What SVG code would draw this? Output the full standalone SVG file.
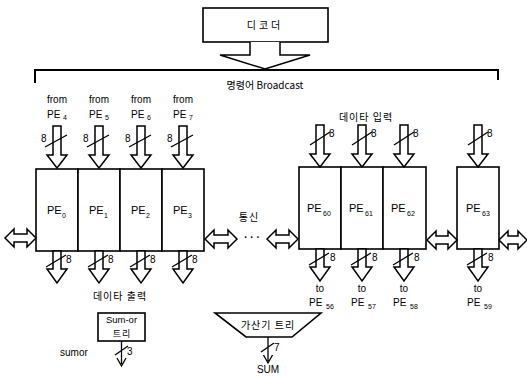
<svg xmlns="http://www.w3.org/2000/svg" width="527" height="380" viewBox="0 0 527 380">
<style>
.box{fill:#fff;stroke:#000;stroke-width:1.6}
.arr{fill:#fff;stroke:#000;stroke-width:1.5;stroke-linejoin:miter}
.ln{fill:none;stroke:#000;stroke-width:1.3}
.br{fill:none;stroke:#000;stroke-width:2}
text{font-family:"Liberation Sans","Noto Sans CJK KR",sans-serif;fill:#000}
.t{font-size:10px}
.k{font-size:10px;font-family:"Noto Sans CJK KR","Liberation Sans",sans-serif;letter-spacing:1px}
.pe{font-size:11px}
.sub{font-size:7px;fill:#000}
.n{font-size:10px}
</style>
<rect width="527" height="380" fill="#fff"/>
<g id="decoder">
<rect class="box" x="203" y="8" width="125" height="34"/>
<text class="k" x="265" y="29" text-anchor="middle" style="letter-spacing:3px">디코더</text>
</g>
<g id="broadcast">
<path class="br" d="M35,83 V70 H498 V80"/>
<text class="k" x="265" y="89" text-anchor="middle" style="letter-spacing:0">명령어 Broadcast</text>
</g>
<g id="pe0"><rect class="box" x="36" y="169" width="42" height="82"/><text class="pe" x="47" y="214">PE</text><text class="sub" x="62" y="218">0</text></g>
<g id="pe1"><rect class="box" x="78" y="169" width="42" height="82"/><text class="pe" x="89" y="214">PE</text><text class="sub" x="104" y="218">1</text></g>
<g id="pe2"><rect class="box" x="120" y="169" width="42" height="82"/><text class="pe" x="131" y="214">PE</text><text class="sub" x="146" y="218">2</text></g>
<g id="pe3"><rect class="box" x="162" y="169" width="42" height="82"/><text class="pe" x="173" y="214">PE</text><text class="sub" x="188" y="218">3</text></g>
<g id="pe60"><rect class="box" x="299" y="167" width="42" height="82"/><text class="pe" x="307" y="212">PE</text><text class="sub" x="323" y="216">60</text></g>
<g id="pe61"><rect class="box" x="341" y="167" width="42" height="82"/><text class="pe" x="349" y="212">PE</text><text class="sub" x="365" y="216">61</text></g>
<g id="pe62"><rect class="box" x="383" y="167" width="43" height="82"/><text class="pe" x="391" y="212">PE</text><text class="sub" x="407" y="216">62</text></g>
<g id="pe63"><rect class="box" x="457" y="167" width="42" height="82"/><text class="pe" x="466" y="212">PE</text><text class="sub" x="482" y="216">63</text></g>
<g id="sumor-tree">
<rect class="box" x="98" y="313" width="47" height="28"/>
<text class="t" x="121.5" y="323" text-anchor="middle" style="font-size:9.5px">Sum-or</text>
<text class="k" x="122" y="337" text-anchor="middle" style="font-size:9px">트리</text>
</g>
<g id="adder-tree">
<path class="box" d="M215,313 H321 L292,337 H246 Z"/>
<text class="k" x="268" y="329" text-anchor="middle">가산기 트리</text>
</g>
<g id="labels">
<text class="t" x="57" y="103" text-anchor="middle">from</text>
<text class="t" x="99" y="103" text-anchor="middle">from</text>
<text class="t" x="141" y="103" text-anchor="middle">from</text>
<text class="t" x="183" y="103" text-anchor="middle">from</text>
<text class="t" x="47" y="118">PE</text><text class="sub" x="63" y="120">4</text>
<text class="t" x="89" y="118">PE</text><text class="sub" x="105" y="120">5</text>
<text class="t" x="131" y="118">PE</text><text class="sub" x="147" y="120">6</text>
<text class="t" x="173" y="118">PE</text><text class="sub" x="189" y="120">7</text>
<text class="k" x="366" y="121" text-anchor="middle">데이타 입력</text>
<text class="k" x="249" y="221" text-anchor="middle">통신</text>
<text class="t" x="252" y="241" text-anchor="middle" font-weight="bold">· · ·</text>
<text class="k" x="120" y="300" text-anchor="middle">데이타 출력</text>
<text class="t" x="320" y="292" text-anchor="middle">to</text>
<text class="t" x="362" y="292" text-anchor="middle">to</text>
<text class="t" x="404" y="292" text-anchor="middle">to</text>
<text class="t" x="478" y="292" text-anchor="middle">to</text>
<text class="t" x="309" y="306">PE</text><text class="sub" x="326" y="309">56</text>
<text class="t" x="351" y="306">PE</text><text class="sub" x="368" y="309">57</text>
<text class="t" x="393" y="306">PE</text><text class="sub" x="410" y="309">58</text>
<text class="t" x="467" y="306">PE</text><text class="sub" x="484" y="309">59</text>
<text class="t" x="60" y="356">sumor</text>
<text class="t" x="268" y="373" text-anchor="middle">SUM</text>
</g>
<g id="connectors">
<path class="arr" d="M250,42 V55 H220 L265,69 L310,55 H280 V42"/>
<path class="arr" d="M53,126 H61 V155 H67 L57,168 L47,155 H53 Z"/>
<path class="arr" d="M95,126 H103 V155 H109 L99,168 L89,155 H95 Z"/>
<path class="arr" d="M137,126 H145 V155 H151 L141,168 L131,155 H137 Z"/>
<path class="arr" d="M179,126 H187 V155 H193 L183,168 L173,155 H179 Z"/>
<path class="ln" d="M45,147 L67,135 M87,147 L109,135 M129,147 L151,135 M171,147 L193,135"/>
<text class="n" x="41" y="142">8</text><text class="n" x="83" y="142">8</text><text class="n" x="125" y="142">8</text><text class="n" x="167" y="142">8</text>
<path class="arr" d="M316,125 H324 V154 H330 L320,167 L310,154 H316 Z"/>
<path class="arr" d="M358,125 H366 V154 H372 L362,167 L352,154 H358 Z"/>
<path class="arr" d="M400,125 H408 V154 H414 L404,167 L394,154 H400 Z"/>
<path class="arr" d="M474,125 H482 V154 H488 L478,167 L468,154 H474 Z"/>
<path class="ln" d="M310,145 L330,132 M352,145 L372,132 M394,145 L414,132 M468,145 L488,132"/>
<text class="n" x="329" y="137">8</text><text class="n" x="371" y="137">8</text><text class="n" x="413" y="137">8</text><text class="n" x="487" y="137">8</text>
<path class="arr" d="M53,251 H61 V269 H67 L57,283 L47,269 H53 Z"/>
<path class="arr" d="M95,251 H103 V269 H109 L99,283 L89,269 H95 Z"/>
<path class="arr" d="M137,251 H145 V269 H151 L141,283 L131,269 H137 Z"/>
<path class="arr" d="M179,251 H187 V269 H193 L183,283 L173,269 H179 Z"/>
<path class="ln" d="M46,267 L66,255 M88,267 L108,255 M130,267 L150,255 M172,267 L192,255"/>
<text class="n" x="66" y="263">8</text><text class="n" x="108" y="263">8</text><text class="n" x="150" y="263">8</text><text class="n" x="192" y="263">8</text>
<path class="arr" d="M316,249 H324 V267 H330 L320,281 L310,267 H316 Z"/>
<path class="arr" d="M358,249 H366 V267 H372 L362,281 L352,267 H358 Z"/>
<path class="arr" d="M400,249 H408 V267 H414 L404,281 L394,267 H400 Z"/>
<path class="arr" d="M474,249 H482 V267 H488 L478,281 L468,267 H474 Z"/>
<path class="ln" d="M309,265 L329,253 M351,265 L371,253 M393,265 L413,253 M467,265 L487,253"/>
<text class="n" x="330" y="261">8</text><text class="n" x="372" y="261">8</text><text class="n" x="414" y="261">8</text><text class="n" x="488" y="261">8</text>
<path class="arr" d="M5,238 L14,229 V234 H27 V229 L36,238 L27,247 V242 H14 V247 Z"/>
<path class="arr" d="M205,239 L214,230 V235 H228 V230 L237,239 L228,248 V243 H214 V248 Z"/>
<path class="arr" d="M267,239 L276,230 V235 H289 V230 L298,239 L289,248 V243 H276 V248 Z"/>
<path class="arr" d="M427,240 L436,231 V236 H448 V231 L457,240 L448,249 V244 H436 V249 Z"/>
<path class="arr" d="M499,240 L508,231 V236 H518 V231 L527,240 L518,249 V244 H508 V249 Z"/>
<path class="ln" d="M121.5,341 V364 M117,358 L121.5,366 L126,358 M115,355 L128,346"/>
<text class="n" x="127" y="355">3</text>
<path class="ln" d="M268,337 V361 M263.5,355 L268,363 L272.5,355 M261,352 L274,343"/>
<text class="n" x="274" y="351">7</text>
</g>
</svg>
